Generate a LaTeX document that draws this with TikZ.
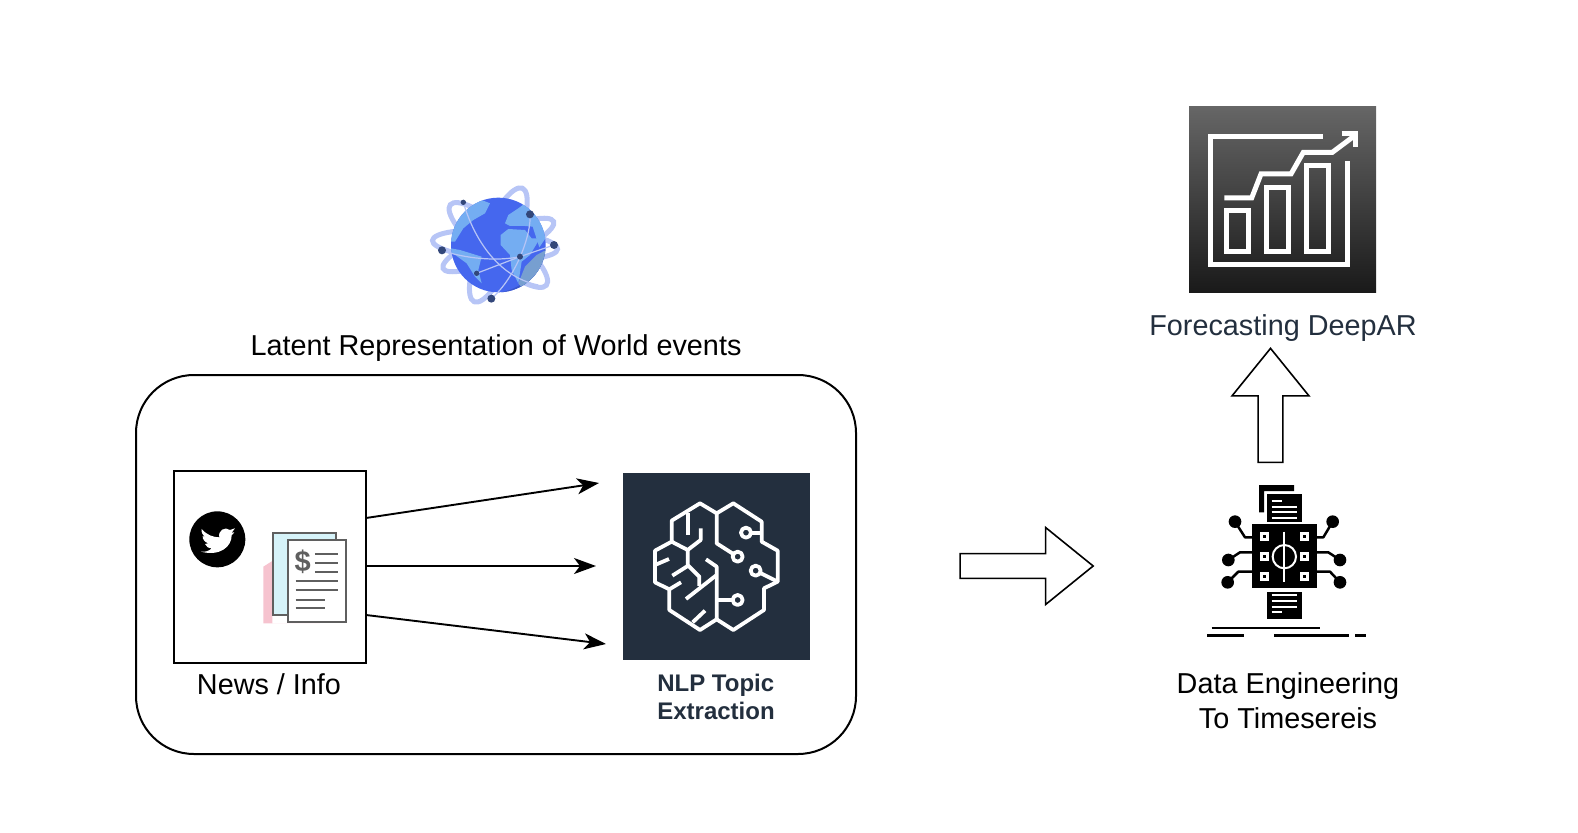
\documentclass[tikz,border=0pt]{standalone}
\usepackage{fontspec}
\setmainfont{Liberation Sans}
\usetikzlibrary{arrows.meta, shapes.arrows}
\definecolor{awsnavy}{HTML}{232F3E}
\definecolor{globeblue}{HTML}{4567EE}
\definecolor{landblue}{HTML}{74ADF2}
\definecolor{orbitblue}{HTML}{B7C5F6}
\definecolor{dotblue}{HTML}{33477A}
\definecolor{sheetgray}{HTML}{5F5F5F}
\definecolor{sheetpink}{HTML}{F6C3CF}
\definecolor{sheetcyan}{HTML}{D6F3F9}
\tikzset{
  frame/.style = {draw, line width=2pt, inner sep=0pt},
  label/.style = {align=center, font=\fontsize{28.8}{35}\selectfont},
  flow/.style = {line width=1.9pt, -{Stealth[length=22pt, width=16pt, inset=6pt]}},
  bigarrow/.style = {draw, line width=1.6pt, single arrow, inner sep=11.5pt, single arrow tip angle=78,
    minimum width=77pt, single arrow head extend=26pt, single arrow head indent=0pt},
  whiteline/.style = {draw=white, line width=3.8pt, line join=round},
  chartline/.style = {draw=white, line width=5pt, line join=miter},
  orbit/.style = {draw=orbitblue, line width=5pt},
  wire/.style = {draw=orbitblue, line width=1.2pt},
  sheet/.style = {draw=sheetgray, line width=2.2pt},
  sheetline/.style = {draw=sheetgray, line width=2.2pt},
  chipwire/.style = {line width=2.5pt, line join=round},
  icontext/.style = {draw=white, line width=2pt},
  chipcell/.style = {draw=white, line width=2.8pt}
}
\begin{document}
\begin{tikzpicture}[x=1pt, y=-1pt]
\useasboundingbox (0,0) rectangle (1578,832);

\node[frame, minimum width=720pt, minimum height=379pt, rounded corners=58pt] (latentBox) at (496,564.5) {};
\node[frame, minimum width=192pt, minimum height=192pt] (news) at (270,566.5) {};
\node[fill=awsnavy, inner sep=0pt, minimum width=187pt, minimum height=187pt] (nlp) at (716.8,566.5) {};
\node[top color=black!60, bottom color=black!90, inner sep=0pt, minimum width=187pt, minimum height=186pt] (forecast) at (1282.7,199.5) {};

\node[label] (latentLabel) at (496,348.5) {Latent Representation of World events};
\node[label] (newsLabel) at (269,684) {News / Info};
\node[align=left, text=awsnavy, font=\fontsize{24}{28}\selectfont\bfseries] (nlpLabel) at (716,696.5) {NLP Topic\\Extraction};
\node[label, text=awsnavy] (forecastLabel) at (1283,328) {Forecasting DeepAR};
\node[label] (engLabel) at (1288,700.5) {Data Engineering\\To Timesereis};

\coordinate (newsTop) at (366,518);
\coordinate (newsMid) at (366,566);
\coordinate (newsLow) at (366,615);
\coordinate (nlpTop) at (599,483);
\coordinate (nlpMid) at (596,566);
\coordinate (nlpLow) at (606,644);
\draw[flow] (newsTop) -- (nlpTop);
\draw[flow] (newsMid) -- (nlpMid);
\draw[flow] (newsLow) -- (nlpLow);

\node[bigarrow, minimum height=133pt] (toEng) at (1019,566) {};
\node[bigarrow, minimum height=114pt, rotate=90] (toForecast) at (1270.5,413) {};

\begin{scope}[shift={(410,170)}, x=0.3333pt, y=-0.3333pt]
\draw[orbit, rotate around={67:(265,225)}] (265,225) ellipse [x radius=185, y radius=52];
\draw[orbit, rotate around={140:(265,225)}] (265,225) ellipse [x radius=188, y radius=52];
\draw[orbit, rotate around={-4:(265,225)}] (255,225) ellipse [x radius=188, y radius=42];
\draw[orbit, rotate around={23:(265,225)}] (265,225) ellipse [x radius=180, y radius=42];
\begin{scope}
\clip (265,225) circle [radius=142];
\fill[globeblue] (100,60) rectangle (430,390);
\fill[globeblue!85!black] (405,230) .. controls (395,310) and (330,360) .. (265,368) -- (430,390) -- cycle;
\fill[landblue!70!gray] (408,240) -- (380,255) -- (345,290) -- (325,340) -- (340,360) -- (420,330) -- cycle;
\fill[landblue] (215,90) -- (240,100) -- (225,130) -- (190,150) -- (160,175) -- (135,215) -- (120,215) -- (110,120) -- cycle;
\fill[landblue] (122,235) -- (150,240) -- (215,260) -- (205,300) -- (215,340) -- (195,320) -- (170,280) -- (122,245) -- cycle;
\fill[landblue] (272,195) -- (295,177) -- (345,180) -- (365,205) -- (390,205) -- (360,255) -- (335,275) -- (325,340) -- (305,300) -- (300,255) -- (272,225) -- cycle;
\fill[landblue] (285,160) -- (295,135) -- (325,115) -- (345,100) -- (370,105) -- (400,150) -- (410,200) -- (388,232) -- (368,170) -- (345,168) -- (300,168) -- cycle;
\end{scope}
\draw[wire] (160,97) .. controls (190,200) and (260,320) .. (385,345);
\draw[wire] (96,241) .. controls (160,265) and (260,275) .. (330,260);
\draw[wire] (200,310) -- (330,260) -- (432,225);
\draw[wire] (360,133) .. controls (365,190) and (320,320) .. (244,386);
\fill[dotblue] (160,97) circle [radius=8];
\fill[dotblue] (360,133) circle [radius=12];
\fill[dotblue] (432,225) circle [radius=12];
\fill[dotblue] (96,241) circle [radius=12];
\fill[dotblue] (330,260) circle [radius=9];
\fill[dotblue] (200,310) circle [radius=8];
\fill[dotblue] (244,386) circle [radius=12];
\end{scope}

\begin{scope}[shift={(165,460)}, x=0.3333pt, y=-0.3333pt]
\fill[black] (157,238) circle [radius=84];
\fill[white] (110,207) .. controls (125,225) and (145,232) .. (163,232) .. controls (158,212) and (180,198) .. (195,210) -- (210,205) -- (200,218) -- (208,217) -- (200,226) .. controls (200,260) and (165,290) .. (108,275) .. controls (122,277) and (133,272) .. (140,265) .. controls (130,265) and (122,258) .. (120,252) -- (130,250) .. controls (120,247) and (112,238) .. (113,228) -- (122,232) .. controls (112,225) and (108,215) .. (110,207) -- cycle;
\fill[sheetpink] (295,320) -- (322,303) -- (322,490) -- (465,490) -- (295,490) -- cycle;
\draw[sheet, fill=sheetcyan] (325,218) rectangle (513,465);
\draw[sheet, fill=white] (370,240) rectangle (543,487);
\node[text=sheetgray, font=\fontsize{29}{29}\selectfont\bfseries] (dollar) at (413,305) {\$};
\foreach \y in {281,309,337}
  \draw[sheetline] (450,\y) -- (520,\y);
\foreach \y in {364,391}
  \draw[sheetline] (392,\y) -- (520,\y);
\foreach \y in {419,444}
  \draw[sheetline] (392,\y) -- (480,\y);
\end{scope}

\begin{scope}[shift={(610,460)}, x=0.3333pt, y=-0.3333pt]
\draw[whiteline] (320,160) -- (270,130) -- (185,182) -- (185,245) -- (135,272) -- (135,367) -- (178,388) -- (178,450) -- (270,510) -- (320,478) -- (370,510) -- (462,450) -- (462,385) -- (503,365) -- (503,272) -- (455,245) -- (455,185) -- (370,130) -- cycle;
\draw[whiteline] (320,160) -- (320,250) -- (370,282);
\draw[whiteline] (320,478) -- (320,320) -- (288,298);
\draw[whiteline] (455,218) -- (423,218);
\draw[whiteline] (503,365) -- (451,339);
\draw[whiteline] (320,420) -- (368,420);
\foreach \p in {(383,290),(408,218),(437,332),(383,420)}
  \draw[whiteline] \p circle [radius=15];
\draw[whiteline] (235,160) -- (235,225);
\draw[whiteline] (272,205) -- (272,240) -- (233,270) -- (185,245);
\draw[whiteline] (233,270) -- (233,315) -- (268,350) -- (268,378);
\draw[whiteline] (233,318) -- (187,347);
\draw[whiteline] (135,315) -- (177,297);
\draw[whiteline] (178,388) -- (213,367);
\draw[whiteline] (320,345) -- (228,417);
\draw[whiteline] (248,487) -- (285,452);
\end{scope}

\begin{scope}[shift={(1175,100)}, x=0.3333pt, y=-0.3333pt]
\draw[chartline] (443,110) -- (107,110) -- (107,495) -- (517,495) -- (517,182);
\draw[chartline] (155,333) rectangle (220,455);
\draw[chartline] (275,262) rectangle (340,455);
\draw[chartline] (395,197) rectangle (460,455);
\draw[chartline] (148,294) -- (230,294) -- (258,222) -- (348,222) -- (385,157) -- (472,157) -- (535,110);
\draw[chartline] (500,102) -- (541,102) -- (541,142);
\end{scope}

\begin{scope}[shift={(1190,475)}, x=0.3333pt, y=-0.3333pt]
\fill (207,30) -- (312,30) -- (312,48) -- (222,48) -- (222,112) -- (207,112) -- cycle;
\fill (230,57) rectangle (335,140);
\fill (230,350) rectangle (337,432);
\fill (187,148) rectangle (380,340);
\draw[icontext] (245,77) -- (275,77);
\foreach \y in {95,112,128}
  \draw[icontext] (245,\y) -- (322,\y);
\foreach \y in {360,378,395}
  \draw[icontext] (245,\y) -- (322,\y);
\draw[icontext] (245,412) -- (275,412);
\foreach \x in {223,343}
  \foreach \y in {185,245,305}
    \draw[chipcell] (\x-9,\y-9) rectangle (\x+9,\y+9);
\draw[icontext] (283,245) circle [radius=35];
\draw[icontext] (283,170) -- (283,320);
\draw[chipwire] (187,187) -- (165,187) -- (135,140);
\draw[chipwire] (187,232) -- (150,232) -- (115,255);
\draw[chipwire] (187,290) -- (145,290) -- (113,322);
\draw[chipwire] (380,187) -- (400,187) -- (428,140);
\draw[chipwire] (380,232) -- (415,232) -- (450,255);
\draw[chipwire] (380,290) -- (420,290) -- (450,322);
\foreach \p in {(135,140),(115,255),(113,322),(428,140),(450,255),(450,322)}
  \fill \p circle [radius=19];
\draw[chipwire] (65,459) -- (390,459);
\draw[chipwire] (52,482) -- (162,482);
\draw[chipwire] (252,482) -- (478,482);
\draw[chipwire] (495,482) -- (528,482);
\end{scope}
\end{tikzpicture}
\end{document}
